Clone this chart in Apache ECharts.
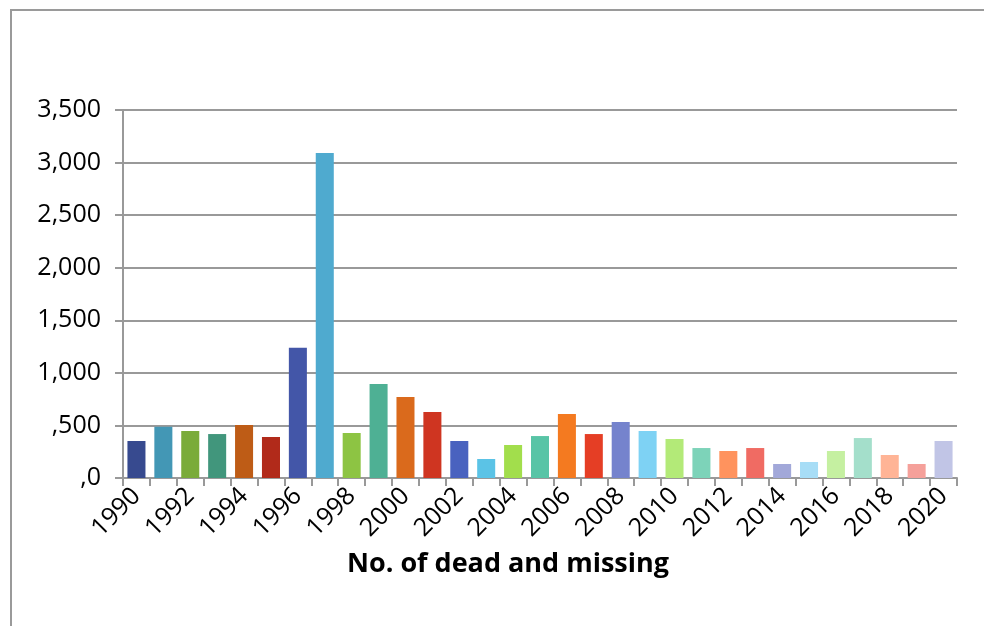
<!DOCTYPE html>
<html><head><meta charset="utf-8">
<script src="https://cdn.jsdelivr.net/npm/echarts@6/dist/echarts.min.js"></script>
<style>html,body{margin:0;padding:0;background:#fff}#c{width:984px;height:626px}</style>
</head><body><div id="c"></div>
<script>
const years = ['1990','1991','1992','1993','1994','1995','1996','1997','1998','1999','2000','2001','2002','2003','2004','2005','2006','2007','2008','2009','2010','2011','2012','2013','2014','2015','2016','2017','2018','2019','2020'];
const deadMissing = [352,488,447,418,504,390,1238,3090,428,894,770,628,352,181,314,399,609,418,533,447,371,285,257,285,133,152,257,380,219,133,352];
const barColors = ['#374A8F','#4397B5','#7AAB3A','#41967C','#BE5C16','#B12A1A','#4356A8','#4FAACF','#8DC443','#4EB094','#DA6A1C','#CF3521','#4962BF','#5BC3E6','#A2DE4C','#58C4A6','#F47A20','#E53E25','#7583CD','#7ED2F4','#B3EA78','#7DD3B9','#FF935E','#F06B63','#A2A8D9','#A7DDF6','#C5F0A1','#A4DFCB','#FFB496','#F5A09A','#C1C5E6'];
const yTickValues = [0,500,1000,1500,2000,2500,3000,3500];
const yTickLabels = [',0',',500','1,000','1,500','2,000','2,500','3,000','3,500'];
const axisTitle = 'No. of dead and missing';

const chart = echarts.init(document.getElementById('c'));
const font = '"Open Sans", "DejaVu Sans", sans-serif';
chart.setOption({
  animation: false,
  graphic: [{type:'rect', shape:{x:11,y:10,width:1100,height:800}, style:{fill:'none', stroke:'#9a9a9a', lineWidth:2}, silent:true}],
  grid: {left:123, right:27, top:110, bottom:148},
  xAxis: {
    type:'category', data: years,
    name: axisTitle, nameLocation:'middle', nameGap:73,
    nameTextStyle:{fontFamily:font, fontWeight:'bold', fontSize:27, color:'#000', padding:[0,64,0,0]},
    axisLine:{lineStyle:{color:'#999', width:2}},
    axisTick:{show:true, interval:0, length:8, lineStyle:{color:'#999', width:2}},
    axisLabel:{interval:1, rotate:45, fontFamily:font, fontSize:25, color:'#000', margin:14}
  },
  yAxis: {
    type:'value', min:0, max:3500, interval:500,
    axisLine:{show:true, lineStyle:{color:'#999', width:2}},
    axisTick:{show:true, length:8, lineStyle:{color:'#999', width:2}},
    splitLine:{lineStyle:{color:'#999', width:2}},
    axisLabel:{fontFamily:font, fontSize:25, color:'#000', margin:22,
      formatter: v => yTickLabels[yTickValues.indexOf(v)]}
  },
  series: [{
    type:'bar', data: deadMissing.map((v,i)=>({value:v, itemStyle:{color:barColors[i]}})),
    barCategoryGap:'33%'
  }]
});
</script></body></html>
